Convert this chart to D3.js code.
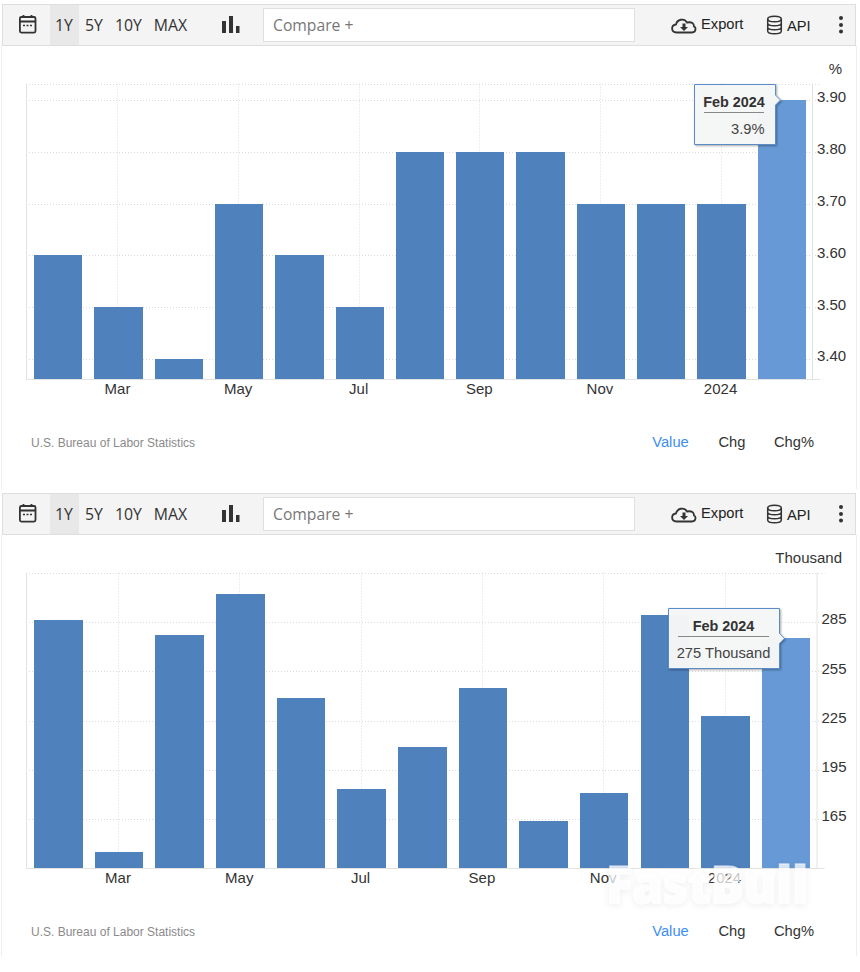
<!DOCTYPE html>
<html>
<head>
<meta charset="utf-8">
<script src="https://cdn.jsdelivr.net/npm/d3@7"></script>
<style>
  html, body { margin: 0; padding: 0; background: #fff; }
  text { font-family: "Liberation Sans", Arial, sans-serif; }
  .grid line { stroke: #dcdcdc; stroke-width: 1; stroke-dasharray: 1 2; }
</style>
</head>
<body>
<script>
// data //
const months = ['Feb 2023', 'Mar', 'Apr', 'May', 'Jun', 'Jul', 'Aug', 'Sep', 'Oct', 'Nov', 'Dec', '2024', 'Feb 2024'];
const xTickLabels = ['Mar', 'May', 'Jul', 'Sep', 'Nov', '2024'];
const rangeButtons = ['1Y', '5Y', '10Y', 'MAX'];
const valueTabs = ['Value', 'Chg', 'Chg%'];

const rateValues = [3.6, 3.5, 3.4, 3.7, 3.6, 3.5, 3.8, 3.8, 3.8, 3.7, 3.7, 3.7, 3.9];
const rateTicks = [3.4, 3.5, 3.6, 3.7, 3.8, 3.9];

const payrollValues = [286, 145, 277, 302, 239, 183, 209, 245, 164, 181, 289, 228, 275];
const payrollTicks = [165, 195, 225, 255, 285];

const source = 'U.S. Bureau of Labor Statistics';

const svg = d3.select('body').append('svg').attr('width', 860).attr('height', 972)
  .style('display', 'block');

const defs = svg.append('defs');
const shadow = defs.append('filter').attr('id', 'tipShadow')
  .attr('x', '-20%').attr('y', '-20%').attr('width', '140%').attr('height', '140%');
shadow.append('feDropShadow').attr('dx', 1).attr('dy', 1).attr('stdDeviation', 1.2)
  .attr('flood-color', '#000').attr('flood-opacity', 0.35);
const wmShadow = defs.append('filter').attr('id', 'wmShadow')
  .attr('x', '-10%').attr('y', '-30%').attr('width', '120%').attr('height', '160%');
wmShadow.append('feDropShadow').attr('dx', 0).attr('dy', 2).attr('stdDeviation', 3)
  .attr('flood-color', '#000').attr('flood-opacity', 0.09);

// toolbar //
function drawToolbar(g) {
  g.append('rect').attr('x', 2.5).attr('y', 4.5).attr('width', 853).attr('height', 41)
    .attr('fill', '#f4f4f4').attr('stroke', '#dedede');
  g.append('rect').attr('x', 50).attr('y', 5).attr('width', 29).attr('height', 40).attr('fill', '#e8e8e8');

  // calendar
  const cal = g.append('g').attr('fill', 'none').attr('stroke', '#333').attr('stroke-width', 1.8);
  cal.append('rect').attr('x', 19.9).attr('y', 17).attr('width', 15.6).attr('height', 15.6).attr('rx', 1.5);
  cal.append('path').attr('d', 'M20 21.5H35M23.5 15V18M31.5 15V18');
  cal.append('path').attr('d', 'M23 25.5H32').attr('stroke-dasharray', '2 1.5').attr('stroke-width', 1.5);

  const xs = [64, 94, 128.5, 170.5];
  g.selectAll('.range').data(rangeButtons).join('text')
    .attr('x', (d, i) => xs[i]).attr('y', 31).attr('text-anchor', 'middle')
    .attr('font-size', 15.8).style('font-family', '"Open Sans", sans-serif').attr('fill', '#333')
    .text(d => d);

  // bar icon
  g.append('path').attr('d', 'M222 21h4v12h-4zM229 16h4v17h-4zM236 26h3.5v7H236z').attr('fill', '#333');

  g.append('rect').attr('x', 263.5).attr('y', 8.5).attr('width', 371).attr('height', 33)
    .attr('fill', '#fff').attr('stroke', '#e0e0e0');
  g.append('text').attr('x', 273).attr('y', 31).attr('font-size', 15.7)
    .style('font-family', '"Open Sans", sans-serif').attr('fill', '#777').text('Compare +');

  // export cloud
  g.append('path')
    .attr('d', 'M678 32.5h-1.5c-6-.5-5.5-7.5-.5-8 1-5 8-7 11-2 5-1 7 1 7 4 2 .5 2.5 6-2 6h-14z')
    .attr('fill', 'none').attr('stroke', '#333').attr('stroke-width', 1.8);
  g.append('path').attr('d', 'M682.5 23.5h3v3.500h2.500l-4 4-4-4h2.500z').attr('fill', '#333');
  g.append('text').attr('x', 701).attr('y', 29).attr('font-size', 14.7).attr('fill', '#222').text('Export');

  // database
  const db = g.append('g').attr('fill', 'none').attr('stroke', '#333').attr('stroke-width', 1.5);
  db.append('ellipse').attr('cx', 774.5).attr('cy', 19).attr('rx', 6.8).attr('ry', 2.8);
  db.append('path').attr('d', 'M767.7 19V31c0 3.8 13.6 3.8 13.6 0V19M767.7 23c0 3.8 13.6 3.8 13.6 0M767.7 27c0 3.8 13.6 3.8 13.6 0');
  g.append('text').attr('x', 787).attr('y', 30.5).attr('font-size', 14.7).attr('fill', '#222').text('API');

  g.selectAll('.dot').data([18, 25, 31.5]).join('circle')
    .attr('cx', 841).attr('cy', d => d).attr('r', 2).attr('fill', '#333');
}

// one chart panel //
function drawChart(opts) {
  const g = svg.append('g').attr('transform', 'translate(0,' + opts.offset + ')');

  drawToolbar(g);

  g.append('path').attr('d', 'M1.5 46V' + opts.panelBottom + 'M856.5 46V' + opts.panelBottom)
    .attr('stroke', '#eeeeee').attr('fill', 'none');

  const x = d3.scaleBand().domain(months).range([opts.left, opts.right]).paddingInner(0.2).paddingOuter(0.1);
  const y = d3.scaleLinear().domain(opts.domain).range([opts.bottom, opts.top]);

  const xTicks = months.filter(m => xTickLabels.includes(m));

  // grid
  const gridY = g.append('g').attr('class', 'grid');
  gridY.selectAll('line').data(opts.ticks.concat([opts.domain[1]])).join('line')
    .attr('x1', opts.gridLeft).attr('x2', opts.right + 8)
    .attr('y1', d => Math.round(y(d)) + 0.5).attr('y2', d => Math.round(y(d)) + 0.5);
  const gridX = g.append('g').attr('class', 'grid');
  gridX.selectAll('line').data(xTicks).join('line')
    .attr('x1', d => Math.round(x(d) + x.bandwidth() / 2) - 0.5)
    .attr('x2', d => Math.round(x(d) + x.bandwidth() / 2) - 0.5)
    .attr('y1', opts.top).attr('y2', opts.bottom);

  // bars
  g.selectAll('.bar').data(opts.values).join('rect')
    .attr('class', 'bar')
    .attr('shape-rendering', 'crispEdges')
    .attr('x', (d, i) => x(months[i]))
    .attr('width', x.bandwidth())
    .attr('y', d => y(d))
    .attr('height', d => opts.bottom - y(d))
    .attr('fill', (d, i) => i === months.length - 1 ? '#6699d5' : '#4f81bd');

  // axis lines
  g.append('path')
    .attr('d', 'M' + (opts.gridLeft + 0.5) + ' ' + opts.top + 'V' + (opts.bottom + 0.5) + 'H' + (opts.right + 8))
    .attr('fill', 'none').attr('stroke', '#e2e2e2');
  g.append('path')
    .attr('d', 'M' + (opts.right + 0.5) + ' ' + opts.top + 'V' + opts.bottom)
    .attr('fill', 'none').attr('stroke', '#e2e2e2');

  const xAxis = g.append('g').attr('transform', 'translate(-1,' + opts.bottom + ')')
    .call(d3.axisBottom(x).tickValues(xTicks).tickSize(0).tickPadding(4));
  xAxis.select('.domain').remove();
  xAxis.selectAll('text').attr('font-size', 15).attr('fill', '#333').style('font-family', '"Liberation Sans", Arial, sans-serif');

  const yAxis = g.append('g').attr('transform', 'translate(' + opts.right + ',0)')
    .call(d3.axisRight(y).tickValues(opts.ticks).tickFormat(opts.format).tickSize(0).tickPadding(opts.labelPad));
  yAxis.select('.domain').remove();
  yAxis.selectAll('text').attr('font-size', 15).attr('fill', '#333').attr('dy', '0.12em')
    .style('font-family', '"Liberation Sans", Arial, sans-serif');

  g.append('text').attr('x', opts.unitX).attr('y', opts.unitY).attr('text-anchor', 'end')
    .attr('font-size', 15).attr('fill', '#333').text(opts.unit);

  // footer
  g.append('text').attr('x', 31).attr('y', 447).attr('font-size', 12).attr('fill', '#8a8a8a').text(source);
  const tabX = [670.5, 732, 794];
  g.selectAll('.tab').data(valueTabs).join('text')
    .attr('x', (d, i) => tabX[i]).attr('y', 447).attr('text-anchor', 'middle').attr('font-size', 14.7)
    .attr('fill', (d, i) => i === 0 ? '#3d8ef0' : '#333').text(d => d);

  // tooltip
  const t = opts.tip;
  const lastY = y(opts.values[months.length - 1]);
  const arrowY = lastY + t.arrowOffset;
  const tip = g.append('g');
  tip.append('path')
    .attr('d', 'M' + t.x + ' ' + t.y + 'H' + (t.x + t.w) + 'V' + (arrowY - 5) + 'l5 5-5 5V' + (t.y + t.h) + 'H' + t.x + 'Z')
    .attr('fill', '#f6f7f8').attr('fill-opacity', 0.97).attr('stroke', '#5b8cc8').attr('stroke-width', 1)
    .attr('filter', 'url(#tipShadow)');
  tip.append('text').attr('x', t.cx).attr('y', t.y + 22).attr('text-anchor', 'middle')
    .attr('font-size', 14.4).attr('font-weight', 'bold').attr('fill', '#333').text('Feb 2024');
  tip.append('line').attr('x1', t.cx - t.rule).attr('x2', t.cx + t.rule)
    .attr('y1', t.y + 28).attr('y2', t.y + 28).attr('stroke', '#888');
  tip.append('text').attr('x', t.valueX).attr('y', t.y + 49.5).attr('text-anchor', t.valueAnchor)
    .attr('font-size', 14.7).attr('fill', '#444').text(t.label);
}

drawChart({
  offset: 0, panelBottom: 489,
  left: 28, right: 812, gridLeft: 26, top: 83.5, bottom: 379,
  domain: [3.3614, 3.932], values: rateValues, ticks: rateTicks,
  format: d3.format('.2f'), labelPad: 5,
  unit: '%', unitX: 842, unitY: 74,
  tip: { x: 694.5, y: 84.5, w: 81, h: 60, cx: 734, rule: 30, arrowOffset: 0, valueX: 764.5, valueAnchor: 'end', label: '3.9%' }
});

drawChart({
  offset: 489, panelBottom: 467,
  left: 28, right: 816.5, gridLeft: 26, top: 83.5, bottom: 379,
  domain: [135.16, 315.15], values: payrollValues, ticks: payrollTicks,
  format: d3.format('d'), labelPad: 5,
  unit: 'Thousand', unitX: 842, unitY: 74,
  tip: { x: 668.5, y: 119.5, w: 111, h: 60, cx: 723.5, rule: 45.5, arrowOffset: 0, valueX: 723.5, valueAnchor: 'middle', label: '275 Thousand' }
});

// watermark //
svg.append('text').attr('x', 606).attr('y', 903)
  .attr('font-size', 52).attr('font-weight', 800).attr('fill', '#fff').attr('fill-opacity', 0.72)
  .attr('stroke', '#fff').attr('stroke-opacity', 0.5).attr('stroke-width', 1.5).attr('stroke-linejoin', 'round')
  .attr('textLength', 202).attr('lengthAdjust', 'spacingAndGlyphs')
  .attr('filter', 'url(#wmShadow)')
  .style('font-family', '"Open Sans", sans-serif').text('FastBull');
</script>
</body>
</html>
